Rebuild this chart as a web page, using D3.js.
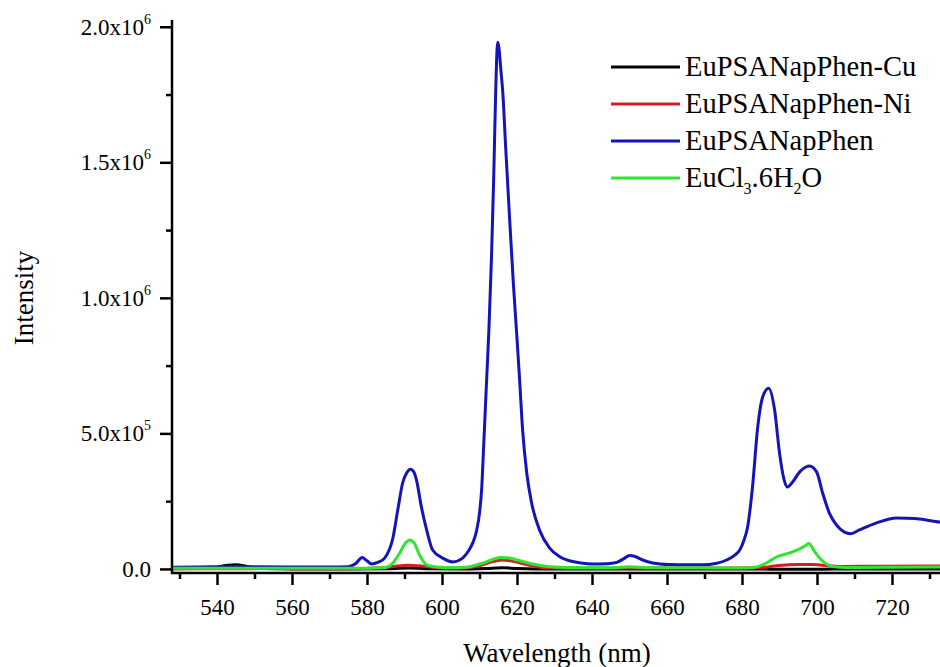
<!DOCTYPE html>
<html>
<head>
<meta charset="utf-8">
<script src="https://cdn.jsdelivr.net/npm/d3@7/dist/d3.min.js"></script>
<style>
  html, body { margin: 0; padding: 0; background: #fff; }
  svg { display: block; }
  svg text { font-family: "Liberation Serif", "Times New Roman", serif; }
</style>
</head>
<body>
<svg id="chart" width="940" height="667"></svg>
<script>
// Emission spectra: wavelength (nm) and intensity (counts) for each sample
const cuWl = [528, 535, 539, 541, 543, 545, 547, 549, 552, 560, 575, 585, 591, 597, 605, 612, 616, 620, 630, 640, 680, 688, 695, 702, 708, 720, 735];
const cuI  = [1000, 1500, 3000, 9000, 14000, 15000, 12000, 6000, 1500, 0, 0, 1000, 3000, 1000, 0, 2000, 4000, 2000, 0, 0, 0, -1000, -1500, -1000, 0, 0, 0];

const niWl = [528, 550, 555, 560, 575, 583, 587, 591, 595, 600, 605, 610, 613, 616, 619, 623, 628, 635, 650, 680, 686, 690, 695, 699, 703, 707, 715, 735];
const niI  = [1000, 1000, 4000, 1000, 1000, 3000, 9000, 14000, 10000, 3000, 3000, 12000, 25000, 33000, 28000, 14000, 4000, 2000, 3000, 3000, 6000, 13000, 16000, 16000, 12000, 9000, 10000, 11000];

const phenWl = [528, 535, 540, 545, 550, 560, 570, 575, 577, 578.7, 580, 581.2, 583, 584.7, 586.9, 588.2, 589.5, 590.6, 591.6, 592.4, 593.2, 594.5, 595.9, 597.5, 600.2, 602.9, 605.5, 607, 608.2, 609.2, 610, 610.6, 611.1, 611.9, 612.5, 613.2, 613.8, 614.3, 614.7, 614.9, 615.2, 615.7, 616.2, 617, 618, 619, 620, 620.7, 621.5, 622.6, 623.9, 626, 628.7, 631.4, 634, 637, 640.2, 644, 646.6, 648.5, 650, 651.5, 653.5, 656.2, 660.7, 665, 669.5, 673, 675.9, 678, 679.4, 680.5, 681.5, 682.8, 684.2, 685.5, 687.1, 688.7, 690, 691.2, 692.1, 693.5, 695.4, 697, 698, 699.9, 701.5, 703.3, 705.2, 707.3, 709, 711.3, 715.9, 721.2, 724, 727.4, 732.7, 735];
const phenI  = [6000, 7000, 8000, 9000, 8000, 7000, 7000, 8000, 20000, 42000, 30000, 18000, 25000, 40000, 114000, 217000, 317000, 355000, 368000, 360000, 328000, 229000, 144000, 70000, 40000, 26000, 40000, 65000, 96000, 140000, 206000, 300000, 450000, 697000, 880000, 1150000, 1450000, 1750000, 1920000, 1943000, 1920000, 1840000, 1760000, 1550000, 1300000, 1060000, 850000, 697000, 512000, 354000, 243000, 144000, 77000, 45000, 30000, 22000, 18000, 19000, 24000, 38000, 50000, 46000, 33000, 22000, 16000, 15000, 15000, 20000, 33000, 50000, 70000, 105000, 155000, 302000, 524000, 634000, 667000, 586000, 428000, 330000, 302000, 321000, 358000, 376000, 380000, 358000, 280000, 206000, 162000, 136000, 130000, 144000, 170000, 188000, 187000, 184000, 173000, 172000];

const euclWl = [528, 560, 580, 584, 585.5, 586.9, 588.7, 590.2, 591.4, 592.6, 594, 595.9, 598.6, 602, 606, 608.2, 610.5, 613, 615.4, 618, 620, 624.2, 628.7, 635, 645, 650, 655, 680, 683.9, 686.5, 689.2, 692.7, 695.4, 697, 697.8, 699.4, 701.2, 702.9, 705.2, 710, 735];
const euclI  = [2500, 2500, 2500, 4000, 7000, 22000, 59000, 95000, 107000, 95000, 52000, 15000, 7000, 4000, 6000, 11000, 20000, 32000, 42000, 40000, 33000, 18000, 8500, 5000, 4000, 8000, 4000, 3000, 7000, 22000, 44000, 59000, 74000, 86000, 94000, 63000, 33000, 15000, 7000, 5000, 7000];

const seriesNames  = ["EuPSANapPhen-Cu", "EuPSANapPhen-Ni", "EuPSANapPhen", "EuCl3.6H2O"];
const seriesColors = ["#000000", "#d41f1f", "#1414b8", "#30e530"];

const xTicks = [540, 560, 580, 600, 620, 640, 660, 680, 700, 720];
const xMinorTicks = [530, 550, 570, 590, 610, 630, 650, 670, 690, 710, 730];
const yTicks = [0, 500000, 1000000, 1500000, 2000000];
const yTickMantissa = ["0.0", "5.0x10", "1.0x10", "1.5x10", "2.0x10"];
const yTickExponent = ["", "5", "6", "6", "6"];
const yMinorTicks = [250000, 750000, 1250000, 1750000];

const svg = d3.select("#chart");
const plotLeft = 172, plotRight = 940, plotTop = 20, plotBottom = 573;
const serif = "Liberation Serif, Times New Roman, serif";

const x = d3.scaleLinear().domain([528, 740]).range([plotLeft, 967]);
const y = d3.scaleLinear().domain([-15000, 2025000]).range([plotBottom, plotTop]);

// Plot area clip
svg.append("defs").append("clipPath").attr("id", "plotclip")
  .append("rect").attr("x", plotLeft).attr("y", 0).attr("width", plotRight - plotLeft).attr("height", plotBottom);

const seriesData = [
  cuWl.map((w, i) => [w, cuI[i]]),
  niWl.map((w, i) => [w, niI[i]]),
  phenWl.map((w, i) => [w, phenI[i]]),
  euclWl.map((w, i) => [w, euclI[i]])
];

const line = d3.line()
  .x(d => x(d[0]))
  .y(d => y(d[1]))
  .curve(d3.curveMonotoneX);

const plot = svg.append("g").attr("clip-path", "url(#plotclip)");
seriesData.forEach((data, i) => {
  plot.append("path")
    .datum(data)
    .attr("fill", "none")
    .attr("stroke", seriesColors[i])
    .attr("stroke-width", 3)
    .attr("stroke-linejoin", "round")
    .attr("d", line);
});

// X axis: major ticks with labels, minor ticks without
const xAxisG = svg.append("g").attr("transform", `translate(0,${plotBottom})`);
xAxisG.call(d3.axisBottom(x).tickValues(xTicks).tickSize(12).tickPadding(14).tickFormat(d3.format("d")));
xAxisG.append("g").call(d3.axisBottom(x).tickValues(xMinorTicks).tickSize(6).tickFormat(""));
xAxisG.attr("font-family", serif).attr("font-size", 23);
xAxisG.selectAll(".domain").remove();
xAxisG.selectAll("line").attr("stroke", "#000").attr("stroke-width", 2.5);
xAxisG.selectAll("text").attr("fill", "#000");
xAxisG.append("line").attr("x1", plotLeft - 1).attr("x2", plotRight).attr("y1", 0).attr("y2", 0)
  .attr("stroke", "#000").attr("stroke-width", 2.5);

// Y axis with x10^n labels
const yAxisG = svg.append("g").attr("transform", `translate(${plotLeft},0)`);
yAxisG.call(d3.axisLeft(y).tickValues(yTicks).tickSize(12).tickPadding(8).tickFormat(""));
yAxisG.append("g").call(d3.axisLeft(y).tickValues(yMinorTicks).tickSize(6).tickFormat(""));
yAxisG.attr("font-family", serif).attr("font-size", 23);
yAxisG.selectAll(".domain").remove();
yAxisG.selectAll("line").attr("stroke", "#000").attr("stroke-width", 2.5);
yAxisG.append("line").attr("x1", 0).attr("x2", 0).attr("y1", plotTop).attr("y2", plotBottom + 1)
  .attr("stroke", "#000").attr("stroke-width", 2.5);

const yLab = yAxisG.selectAll("text.ylab").data(yTicks).enter().append("text")
  .attr("class", "ylab")
  .attr("x", -21)
  .attr("y", d => y(d) + 8)
  .attr("text-anchor", "end")
  .attr("font-size", 23)
  .attr("fill", "#000");
yLab.each(function(d, i) {
  const t = d3.select(this);
  t.append("tspan").text(yTickMantissa[i]);
  if (yTickExponent[i]) {
    t.append("tspan").attr("font-size", 14).attr("dy", -11).text(yTickExponent[i]);
  }
});

// Axis titles
svg.append("text")
  .attr("x", (plotLeft + plotRight) / 2 + 1).attr("y", 662)
  .attr("text-anchor", "middle").attr("font-size", 27).attr("fill", "#000")
  .text("Wavelength (nm)");
svg.append("text")
  .attr("transform", "translate(33,298) rotate(-90)")
  .attr("text-anchor", "middle").attr("font-size", 27).attr("fill", "#000")
  .text("Intensity");

// Legend
const legend = svg.append("g");
const legendY = [67, 104, 141, 178];
seriesNames.forEach((name, i) => {
  const g = legend.append("g").attr("transform", `translate(0,${legendY[i]})`);
  g.append("line").attr("x1", 611).attr("x2", 680).attr("y1", 0).attr("y2", 0)
    .attr("stroke", seriesColors[i]).attr("stroke-width", 3);
  const t = g.append("text").attr("x", 685).attr("y", 9).attr("font-size", 28.5).attr("fill", "#000");
  if (name === "EuCl3.6H2O") {
    t.append("tspan").text("EuCl");
    t.append("tspan").attr("font-size", 16).attr("dy", 7).text("3");
    t.append("tspan").attr("dy", -7).text(".6H");
    t.append("tspan").attr("font-size", 16).attr("dy", 7).text("2");
    t.append("tspan").attr("dy", -7).text("O");
  } else {
    t.text(name);
  }
});
</script>
</body>
</html>
